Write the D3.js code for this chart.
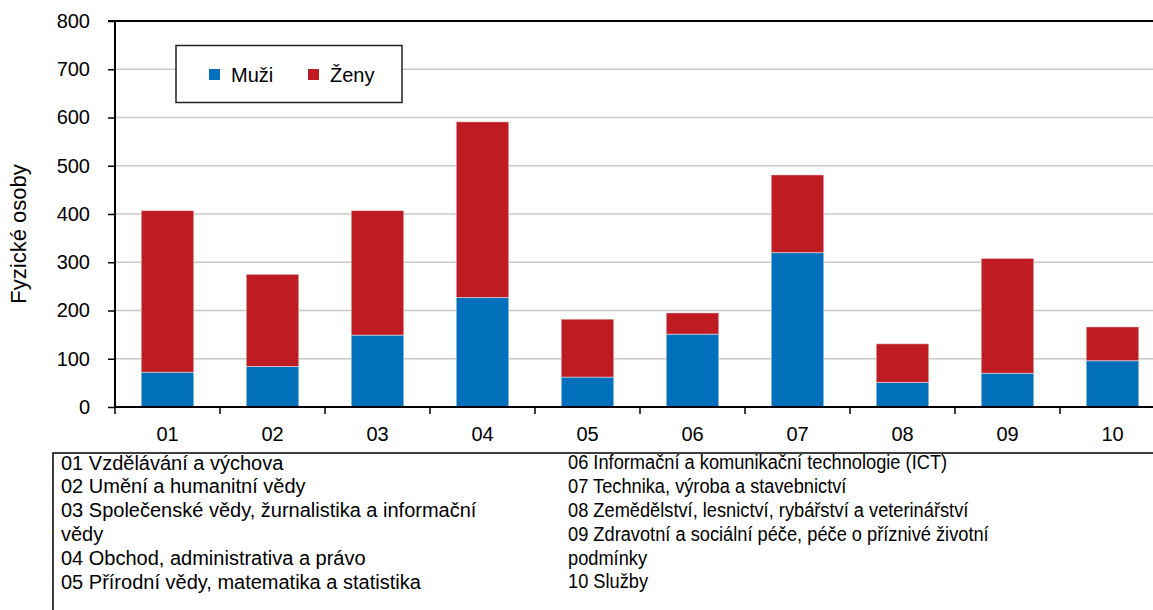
<!DOCTYPE html>
<html>
<head>
<meta charset="utf-8">
<script src="https://cdn.jsdelivr.net/npm/d3@7/dist/d3.min.js"></script>
<style>
  body { margin: 0; background: #fff; }
  svg { display: block; font-family: Arial, "Liberation Sans", sans-serif; }
</style>
</head>
<body>
<div id="chart"></div>
<script>
// categories and values (Fyzické osoby)
const categories = ['01', '02', '03', '04', '05', '06', '07', '08', '09', '10'];
const muzi = [72, 84, 149, 227, 62, 151, 320, 51, 70, 96];
const zeny = [335, 191, 258, 364, 120, 44, 161, 80, 238, 70];
const yTicks = [0, 100, 200, 300, 400, 500, 600, 700, 800];
const seriesNames = ['Muži', 'Ženy'];
const colors = ['#0070ba', '#be1b22'];

const leftNotes = [
  '01 Vzdělávání a výchova',
  '02 Umění a humanitní vědy',
  '03 Společenské vědy, žurnalistika a informační',
  'vědy',
  '04 Obchod, administrativa a právo',
  '05 Přírodní vědy, matematika a statistika'
];
const rightNotes = [
  '06 Informační a komunikační technologie (ICT)',
  '07 Technika, výroba a stavebnictví',
  '08 Zemědělství, lesnictví, rybářství a veterinářství',
  '09 Zdravotní a sociální péče, péče o příznivé životní',
  'podmínky',
  '10 Služby'
];

const width = 1153;
const height = 610;
const margin = { left: 115, top: 21, right: -12, bottom: 203 };

const svg = d3.select('#chart')
  .append('svg')
  .attr('width', width)
  .attr('height', height);

const x = d3.scaleBand()
  .domain(categories)
  .range([margin.left, width - margin.right])
  .paddingInner(0.5)
  .paddingOuter(0.25);

const y = d3.scaleLinear()
  .domain([0, 800])
  .range([height - margin.bottom, margin.top]);

// gridlines
svg.append('g')
  .selectAll('line')
  .data(yTicks.filter(d => d > 0 && d < 800))
  .join('line')
  .attr('x1', margin.left)
  .attr('x2', width)
  .attr('y1', d => y(d))
  .attr('y2', d => y(d))
  .attr('stroke', '#c8c8c8')
  .attr('stroke-width', 1.5);

// stacked bars
const rows = categories.map((c, i) => ({ cat: c, Muži: muzi[i], Ženy: zeny[i] }));
const stack = d3.stack().keys(seriesNames)(rows);

svg.append('g')
  .selectAll('g')
  .data(stack)
  .join('g')
  .attr('fill', (d, i) => colors[i])
  .selectAll('rect')
  .data(d => d)
  .join('rect')
  .attr('x', d => x(d.data.cat))
  .attr('width', x.bandwidth())
  .attr('y', d => y(d[1]))
  .attr('height', d => y(d[0]) - y(d[1]))
  .attr('stroke', 'rgba(255,255,255,0.45)')
  .attr('stroke-width', 1);

// top border line at 800
svg.append('line')
  .attr('x1', margin.left - 7)
  .attr('x2', width)
  .attr('y1', y(800))
  .attr('y2', y(800))
  .attr('stroke', '#000')
  .attr('stroke-width', 2);

// y axis
const yAxis = svg.append('g')
  .attr('transform', `translate(${margin.left},0)`)
  .call(d3.axisLeft(y).tickValues(yTicks).tickSize(7).tickPadding(18));
yAxis.select('.domain').attr('stroke', '#000').attr('stroke-width', 2)
  .attr('d', `M0,${y(800)}V${y(0)}`);
yAxis.selectAll('.tick line').attr('stroke', '#000').attr('stroke-width', 1.5);
yAxis.selectAll('.tick text')
  .attr('font-size', 20)
  .attr('font-family', 'Arial, "Liberation Sans", sans-serif')
  .attr('fill', '#000');

// x axis with ticks at band boundaries
const xBase = y(0);
svg.append('line')
  .attr('x1', margin.left)
  .attr('x2', width)
  .attr('y1', xBase)
  .attr('y2', xBase)
  .attr('stroke', '#000')
  .attr('stroke-width', 2);

svg.append('g')
  .selectAll('line')
  .data(categories)
  .join('line')
  .attr('x1', d => x(d) - x.step() * 0.25)
  .attr('x2', d => x(d) - x.step() * 0.25)
  .attr('y1', xBase)
  .attr('y2', xBase + 7)
  .attr('stroke', '#000')
  .attr('stroke-width', 1.5);

svg.append('g')
  .selectAll('text')
  .data(categories)
  .join('text')
  .attr('x', d => x(d) + x.bandwidth() / 2)
  .attr('y', 441)
  .attr('text-anchor', 'middle')
  .attr('font-size', 20)
  .text(d => d);

// y axis title
svg.append('text')
  .attr('transform', 'translate(26,234) rotate(-90)')
  .attr('text-anchor', 'middle')
  .attr('font-size', 22)
  .text('Fyzické osoby');

// legend
const legend = svg.append('g');
legend.append('rect')
  .attr('x', 176)
  .attr('y', 45.5)
  .attr('width', 226)
  .attr('height', 57)
  .attr('fill', '#fff')
  .attr('stroke', '#222')
  .attr('stroke-width', 1.5);

const legendX = [209, 308];
seriesNames.forEach((name, i) => {
  legend.append('rect')
    .attr('x', legendX[i])
    .attr('y', 69)
    .attr('width', 11)
    .attr('height', 11)
    .attr('fill', colors[i]);
  legend.append('text')
    .attr('x', legendX[i] + 22)
    .attr('y', 82)
    .attr('font-size', 20)
    .text(name);
});

// notes table
svg.append('path')
  .attr('d', `M${width},453H53V${height}`)
  .attr('fill', 'none')
  .attr('stroke', '#000')
  .attr('stroke-width', 1.5);

const lineH = 23.8;
svg.append('g')
  .selectAll('text')
  .data(leftNotes)
  .join('text')
  .attr('x', 61)
  .attr('y', (d, i) => 469.5 + i * lineH)
  .attr('font-size', 20)
  .text(d => d);

// right column is set a little narrower in the original
svg.append('g')
  .attr('transform', 'translate(568,0) scale(0.913,1)')
  .selectAll('text')
  .data(rightNotes)
  .join('text')
  .attr('x', 0)
  .attr('y', (d, i) => 469.5 + i * lineH)
  .attr('font-size', 20)
  .text(d => d);
</script>
</body>
</html>
